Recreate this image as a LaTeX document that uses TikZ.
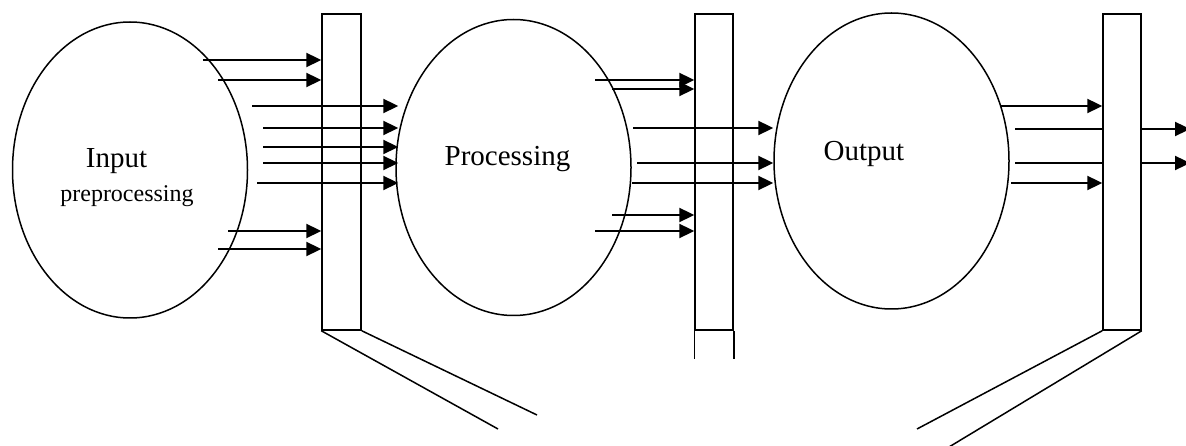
\documentclass[tikz,border=0pt]{standalone}
\usepackage{fontspec}
\setmainfont{Liberation Serif}
\usetikzlibrary{arrows.meta,positioning,shapes.geometric}

\begin{document}
\begin{tikzpicture}[x=1pt,y=-1pt,
    stage/.style={draw,ellipse,line width=1.5pt,minimum width=235pt,minimum height=296pt,inner sep=0pt},
    bar/.style={draw,rectangle,line width=1.5pt,minimum width=39pt,minimum height=316pt,inner sep=0pt},
    flow/.style={line width=2.3pt,-{Triangle[length=15pt,width=14pt]}},
    feed/.style={line width=2.3pt},
    leg/.style={line width=1.5pt}]
    \useasboundingbox (0,0) rectangle (1186,446);

        \node[stage] (inp) at (130,170) {};
        \node[stage] (proc) at (513.5,167.5) {};
        \node[stage] (outp) at (891.5,161) {};

        \node[anchor=base] (inlabel) at (116.5,168) {\fontsize{29}{34}\selectfont Input};
        \node[anchor=base] (prelabel) at (127,202) {\fontsize{24}{28}\selectfont preprocessing};
        \node[anchor=base] (proclabel) at (507.5,166) {\fontsize{29}{34}\selectfont Processing};
        \node[anchor=base] (outlabel) at (864,161) {\fontsize{29}{34}\selectfont Output};

        \node[bar] (bara) at (341.5,172) {};
        \node[bar,minimum width=38pt] (barb) at (714,172) {};
        \node[bar,minimum width=38pt] (barc) at (1122,172) {};

        \coordinate (legaa) at (498,429);
        \coordinate (legab) at (537,415);
        \coordinate (legca) at (917,429);
        \coordinate (legcb) at (949,447);
        \draw[leg] (bara.south west) -- (legaa);
        \draw[leg] (bara.south east) -- (legab);
        \draw[leg] (barb.south west) -- ++(0,28);
        \draw[leg] (barb.south east) -- ++(0,28);
        \draw[leg] (barc.south west) -- (legca);
        \draw[leg] (barc.south east) -- (legcb);

        \foreach \y/\x in {60/203,80/218,231/228,249/218} {
            \coordinate (s) at (\x,\y);
            \draw[flow] (s) -- (s -| bara.west);
        }
        \foreach \y/\x in {106/252,128/263,147/263,163/263,183/257} {
            \coordinate (s) at (\x,\y);
            \draw[flow] (s) -- ([xshift=3pt]s -| proc.west);
        }
        \foreach \y/\x in {80/595,89/612,215/612,231/595} {
            \coordinate (s) at (\x,\y);
            \draw[flow] (s) -- (s -| barb.west);
        }
        \foreach \y/\x in {128/633,163/637,183/632} {
            \coordinate (s) at (\x,\y);
            \draw[flow] (s) -- (s -| outp.west);
        }
        \foreach \y/\x in {106/1001,183/1011} {
            \coordinate (s) at (\x,\y);
            \draw[flow] (s) -- (s -| barc.west);
        }
        \foreach \y/\x in {129/1015,163/1015} {
            \coordinate (s) at (\x,\y);
            \coordinate (t) at (1190,\y);
            \draw[feed] (s) -- (s -| barc.west);
            \draw[flow] (s -| barc.east) -- (t);
        }

\end{tikzpicture}
\end{document}
